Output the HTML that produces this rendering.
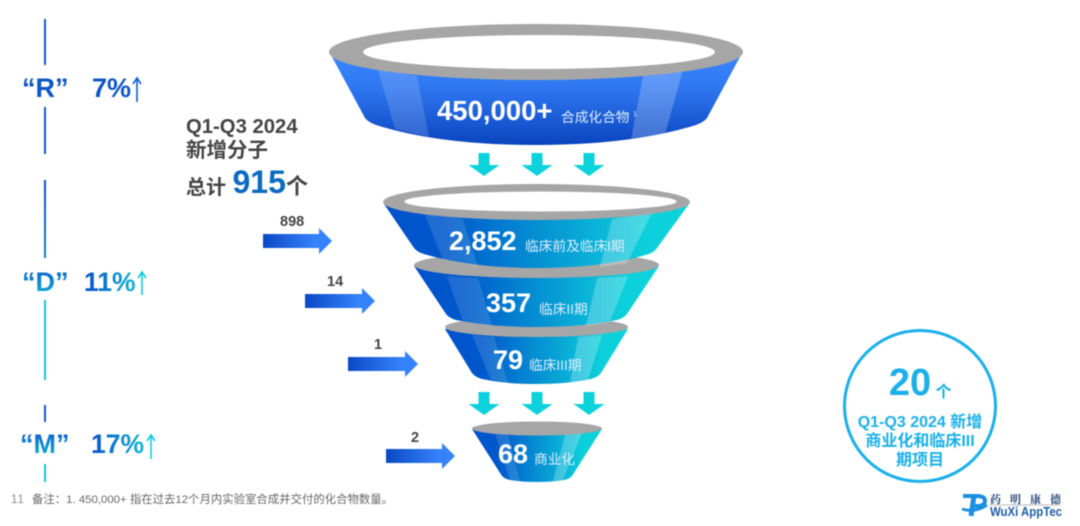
<!DOCTYPE html>
<html lang="zh">
<head>
<meta charset="utf-8">
<title>Funnel</title>
<style>
html,body{margin:0;padding:0;background:#fff;width:1080px;height:526px;overflow:hidden}
svg{display:block;filter:blur(.4px)}
text{font-family:"Liberation Sans","Noto Sans CJK SC",sans-serif}
.b{font-weight:700}
.w{fill:#fff;font-weight:700}
.l{fill:#dfeefa;font-size:13.7px}
</style>
</head>
<body>
<svg width="1080" height="526" viewBox="0 0 1080 526" xmlns="http://www.w3.org/2000/svg">
<defs>
<linearGradient id="top" x1="0" y1="0" x2="0" y2="1"><stop offset="0" stop-color="#3a85ff"/><stop offset=".35" stop-color="#2f78f2"/><stop offset="1" stop-color="#0a45bf"/></linearGradient>
<linearGradient id="h" x1="0" y1="0" x2="1" y2="0"><stop offset="0" stop-color="#0052cc"/><stop offset=".2" stop-color="#0058cc"/><stop offset=".85" stop-color="#0ccfdb"/><stop offset="1" stop-color="#0cd4dc"/></linearGradient>
<linearGradient id="ar" x1="0" y1="0" x2="1" y2="0"><stop offset="0" stop-color="#0a48c4"/><stop offset=".75" stop-color="#3582fb"/><stop offset="1" stop-color="#3582ff"/></linearGradient>
<linearGradient id="l1" x1="0" y1="180" x2="0" y2="380" gradientUnits="userSpaceOnUse"><stop offset="0" stop-color="#0a50c8"/><stop offset="1" stop-color="#10d0dc"/></linearGradient>
<linearGradient id="td" x1="0" y1="268" x2="0" y2="298" gradientUnits="userSpaceOnUse"><stop offset="0" stop-color="#0a60cc"/><stop offset="1" stop-color="#10b8d8"/></linearGradient>
<linearGradient id="t11" x1="85" y1="0" x2="150" y2="0" gradientUnits="userSpaceOnUse"><stop offset="0" stop-color="#0a50c8"/><stop offset="1" stop-color="#10d0e0"/></linearGradient>
<linearGradient id="t17" x1="90" y1="0" x2="158" y2="0" gradientUnits="userSpaceOnUse"><stop offset="0" stop-color="#0a50c8"/><stop offset="1" stop-color="#10d0e0"/></linearGradient>
<linearGradient id="tm" x1="0" y1="432" x2="0" y2="456" gradientUnits="userSpaceOnUse"><stop offset="0" stop-color="#0a60cc"/><stop offset="1" stop-color="#10b0d8"/></linearGradient>
</defs>

<!-- left rail -->
<g stroke-width="2" fill="none">
<line x1="45" y1="19" x2="45" y2="65" stroke="#1258cc"/>
<line x1="45" y1="107" x2="45" y2="154" stroke="#1258cc"/>
<line x1="45" y1="180" x2="45" y2="258" stroke="url(#l1)"/>
<line x1="45" y1="300" x2="45" y2="380" stroke="#12c4d8"/>
<line x1="45" y1="405" x2="45" y2="422" stroke="#1258c8"/>
<line x1="45" y1="464" x2="45" y2="482" stroke="#12c4d8"/>
</g>
<text x="22" y="97" class="b" font-size="27" fill="#0c55c8">“R”</text>
<text x="92" y="97" class="b" font-size="27" fill="#0c55c8">7%</text>
<path d="M137 102V79M133 84L137 78L141 84" fill="none" stroke="#0c60d8" stroke-width="1.600"/>
<text x="22" y="291" class="b" font-size="27" fill="url(#td)">“D”</text>
<text x="84" y="291" class="b" font-size="26.500" fill="url(#t11)">11%</text>
<path d="M142 295V273M138 278L142 272L146 278" fill="none" stroke="#12cce0" stroke-width="1.600"/>
<text x="20" y="453" class="b" font-size="27" fill="url(#tm)">“M”</text>
<text x="91" y="453" class="b" font-size="26.500" fill="url(#t17)">17%</text>
<path d="M151 459V436M147 441L151 435L155 441" fill="none" stroke="#12cce0" stroke-width="1.600"/>

<!-- Q text -->
<text x="186" y="133" class="b" font-size="20.300" fill="#444">Q1-Q3 2024</text>
<text x="186" y="157" class="b" font-size="20.500" fill="#444">新增分子</text>
<text x="186" y="194" class="b" font-size="20" fill="#444">总计</text>
<text x="232.500" y="193" class="b" font-size="32" fill="#0a6cbe">915</text>
<text x="286" y="194" class="b" font-size="22" fill="#444">个</text>

<!-- side arrows -->
<g fill="url(#ar)">
<path d="M263 234H319V228L332 241L319 254V248H263Z"/>
<path d="M305 294H362V288L375 301L362 314V308H305Z"/>
<path d="M348 357H405V351L418 364L405 377V371H348Z"/>
<path d="M386 449H442V443L455 456L442 469V463H386Z"/>
</g>
<g font-size="14.500" fill="#444" font-weight="700">
<text x="280" y="226">898</text>
<text x="327" y="286">14</text>
<text x="374" y="349">1</text>
<text x="411" y="442">2</text>
</g>

<!-- Funnel 1 -->
<path d="M331 55 L365 118 Q368 122 376 125 Q440 145 536 145 Q632 145 696 125 Q704 122 707 118 L741 55 Z" fill="url(#top)"/>
<path d="M378 70 L417 76 L429 137 L395 129Z" fill="#fff" opacity=".15"/>
<path d="M643 76 L683 70 L665 134 L631 140Z" fill="#fff" opacity=".22"/>
<ellipse cx="536" cy="52" rx="207" ry="28" fill="#a6a6a6"/>
<ellipse cx="539" cy="52" rx="176" ry="17" fill="#fff"/>
<text x="437" y="120" class="w" font-size="27.500">450,000+</text>
<text x="561" y="122" class="l">合成化合物</text>
<text x="633" y="116" fill="#dfeefa" font-size="7">1</text>

<!-- Down arrows -->
<g fill="#0cd2dc">
<path d="M478.500 153H489.500V165H499.500L484 176L468.500 165H478.500Z"/>
<path d="M531.500 153H542.500V165H552.500L537 176L521.500 165H531.500Z"/>
<path d="M583.500 153H594.500V165H604.500L589 176L573.500 165H583.500Z"/>
<path d="M478.500 392H489.500V404H499.500L484 415L468.500 404H478.500Z"/>
<path d="M531.500 392H542.500V404H552.500L537 415L521.500 404H531.500Z"/>
<path d="M583.500 392H594.500V404H604.500L589 415L573.500 404H583.500Z"/>
</g>

<!-- Funnel 5 (bottom-most first) -->
<path d="M472 429 L502 476 Q505 479 510 480 Q522 482 536.500 482 Q552 482 564 480 Q569 479 572 476 L602 429 Z" fill="url(#h)"/>
<path d="M495 434 L508 435 L520 482 L510 480Z" fill="#fff" opacity=".13"/>
<path d="M565 435 L582 433 L563 480 L553 481Z" fill="#fff" opacity=".24"/>
<ellipse cx="537" cy="428.500" rx="65" ry="7" fill="#a6a6a6"/>
<text x="498" y="463" class="w" font-size="27">68</text>
<text x="534" y="464" class="l">商业化</text>

<!-- Funnel 4 -->
<path d="M445 329 L472 373 Q475 377 482 379 Q505 384 536.500 384 Q568 384 591 379 Q598 377 601 373 L628 329 Z" fill="url(#h)"/>
<path d="M472 335 L494 337 L508 383 L491 380Z" fill="#fff" opacity=".13"/>
<path d="M578 337 L602 335 L588 380 L570 383Z" fill="#fff" opacity=".24"/>
<ellipse cx="536.500" cy="327" rx="91.500" ry="10" fill="#a6a6a6"/>
<text x="493" y="369" class="w" font-size="27">79</text>
<text x="529" y="370" class="l">临床III期</text>

<!-- Funnel 3 -->
<path d="M414 266 L446 314 Q449 318 456 320 Q490 327 536.500 327 Q583 327 617 320 Q624 318 627 314 L659 266 Z" fill="url(#h)"/>
<path d="M447 276 L478 278 L492 326 L463 322Z" fill="#fff" opacity=".13"/>
<path d="M597 278 L628 276 L610 322 L586 326Z" fill="#fff" opacity=".24"/>
<ellipse cx="536.500" cy="265" rx="122.500" ry="13" fill="#a6a6a6"/>
<text x="486" y="312" class="w" font-size="27">357</text>
<text x="539" y="314" class="l">临床II期</text>

<!-- Funnel 2 -->
<path d="M384 204 L414 248 Q417 252 424 254 Q470 268 536.500 268 Q603 268 649 254 Q654 252 657 248 L689 204 Z" fill="url(#h)"/>
<path d="M424 212 L463 219 L478 267 L443 260Z" fill="#fff" opacity=".13"/>
<path d="M612 219 L652 213 L627 263 L600 267Z" fill="#fff" opacity=".24"/>
<ellipse cx="536.500" cy="202" rx="153.500" ry="18" fill="#a6a6a6"/>
<ellipse cx="540.500" cy="201.500" rx="136" ry="10" fill="#fff"/>
<text x="449" y="250" class="w" font-size="27">2,852</text>
<text x="525" y="251" class="l">临床前及临床I期</text>

<!-- Circle -->
<circle cx="920" cy="406" r="75.500" fill="#fff" stroke="#1ab0ea" stroke-width="3"/>
<g fill="#1ab0ea" text-anchor="middle">
<text x="910" y="395" class="b" font-size="38">20</text>
<text x="943.500" y="397" class="b" font-size="16">个</text>
<text x="920" y="427" class="b" font-size="16">Q1-Q3 2024 新增</text>
<text x="920" y="446" class="b" font-size="16">商业化和临床III</text>
<text x="920" y="465" class="b" font-size="16">期项目</text>
</g>

<!-- Footer -->
<text x="11" y="503" font-size="11.500" letter-spacing="1" fill="#8a8a8a">11</text>
<text x="32" y="503" font-size="11.400" fill="#666">备注：1. 450,000+ 指在过去12个月内实验室合成并交付的化合物数量。</text>

<!-- Logo -->
<g fill="none" stroke="#1a90e0">
<path d="M963 496 H977 Q985 496 985 501 Q985 506 977 506 H972" stroke-width="4"/>
<path d="M974 496 L971 516" stroke-width="5"/>
<path d="M962 509 Q975 513 987 505" stroke-width="3"/>
</g>
<text x="990" y="503" font-size="11" font-weight="700" fill="#1a3f6e" style="font-family:'Noto Serif CJK SC',serif" textLength="71" lengthAdjust="spacing">药明康德</text>
<line x1="990" y1="505" x2="1061" y2="505" stroke="#bbb" stroke-width="1"/>
<text x="990" y="516" class="b" font-size="12.500" fill="#1d5ea8" textLength="72" lengthAdjust="spacingAndGlyphs">WuXi AppTec</text>
</svg>
</body>
</html>
